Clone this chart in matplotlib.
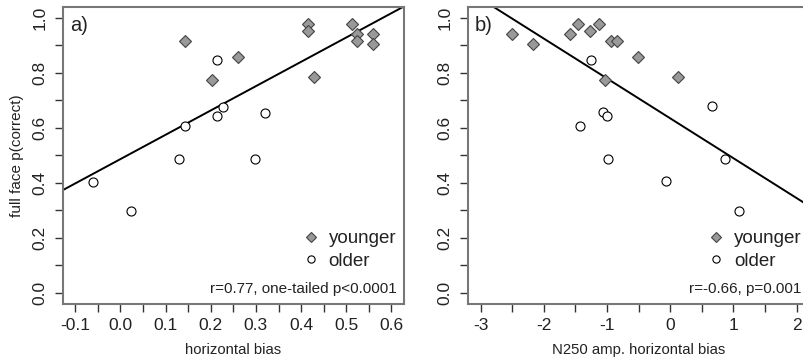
import matplotlib
matplotlib.use("Agg")
import matplotlib.pyplot as plt
import numpy as np

plt.rcParams['font.family'] = ['Liberation Sans', 'DejaVu Sans']

# panel a: behavioural horizontal bias vs. full face accuracy
young_hbias = [0.143, 0.202, 0.261, 0.416, 0.416, 0.428, 0.512, 0.524, 0.524, 0.560, 0.560]
young_acc = [0.917, 0.774, 0.857, 0.978, 0.952, 0.786, 0.977, 0.942, 0.915, 0.942, 0.905]
old_hbias = [-0.061, 0.023, 0.130, 0.143, 0.2135, 0.2135, 0.226, 0.298, 0.3195]
old_acc = [0.405, 0.298, 0.489, 0.607, 0.846, 0.643, 0.678, 0.489, 0.654]

# panel b: N250 amplitude horizontal bias vs. full face accuracy
young_n250 = [-2.506, -2.170, -1.581, -1.455, -1.265, -1.129, -0.945, -0.845, -1.039, -0.514, 0.123]
young_acc_b = [0.941, 0.904, 0.941, 0.977, 0.953, 0.977, 0.916, 0.917, 0.774, 0.857, 0.786]
old_n250 = [-1.260, -1.434, -1.060, -1.003, -0.981, -0.072, 0.659, 0.874, 1.090]
old_acc_b = [0.846, 0.608, 0.657, 0.642, 0.489, 0.408, 0.680, 0.489, 0.298]

# regression lines (intercept, slope)
fit_a = (0.487, 0.884)
fit_b = (0.635, -0.145)

stats_a = "r=0.77, one-tailed p<0.0001"
stats_b = "r=-0.66, p=0.001"

spine_col = '#777777'
text_col = '#222222'


def style_axes(ax, xlim, xmajor, xminor, xlabels):
    ax.set_xlim(*xlim)
    ax.set_ylim(-0.04, 1.04)
    ax.set_xticks(xmajor)
    ax.set_xticks(xminor, minor=True)
    ax.set_xticklabels(xlabels)
    ax.set_yticks([0.0, 0.2, 0.4, 0.6, 0.8, 1.0])
    ax.set_yticks([0.1, 0.3, 0.5, 0.7, 0.9], minor=True)
    ax.set_yticklabels(['0.0', '0.2', '0.4', '0.6', '0.8', '1.0'],
                       rotation=90, va='center')
    for s in ax.spines.values():
        s.set_color(spine_col)
        s.set_linewidth(1.5)
    ax.tick_params(which='both', direction='out', length=6, width=1,
                   color='#333333', labelsize=12.5, labelcolor=text_col)
    ax.tick_params(axis='x', which='both', pad=4)
    ax.tick_params(axis='y', which='both', pad=5)


fig = plt.figure(figsize=(8.04, 3.6), dpi=100)
ax_a = fig.add_axes([0.078, 0.1556, 0.4245, 0.825])
ax_b = fig.add_axes([0.5821, 0.1556, 0.4245, 0.825])

xa_major = [-0.1, 0.0, 0.1, 0.2, 0.3, 0.4, 0.5, 0.6]
xa_minor = [-0.05, 0.05, 0.15, 0.25, 0.35, 0.45, 0.55]
xb_major = [-3, -2, -1, 0, 1, 2]
xb_minor = [-2.5, -1.5, -0.5, 0.5, 1.5]

panels = [
    (ax_a, young_hbias, young_acc, old_hbias, old_acc, fit_a, 'a)', stats_a,
     (-0.128, 0.628), xa_major, xa_minor, ['%.1f' % v for v in xa_major],
     'horizontal bias'),
    (ax_b, young_n250, young_acc_b, old_n250, old_acc_b, fit_b, 'b)', stats_b,
     (-3.2, 2.2), xb_major, xb_minor, ['%d' % v for v in xb_major],
     'N250 amp. horizontal bias'),
]

for (ax, xy, yy, xo, yo, fit, label, stats, xlim, xmajor, xminor, xlabels,
     xlab) in panels:
    ax.plot(xy, yy, 'D', ms=5.8, mfc='#999999', mec='#444444', mew=0.8,
            linestyle='none', zorder=3)
    ax.plot(xo, yo, 'o', ms=6.5, mfc='white', mec='black', mew=0.8,
            linestyle='none', zorder=3)
    ax.axline((0, fit[0]), slope=fit[1], color='black', lw=1.4, zorder=2)
    style_axes(ax, xlim, xmajor, xminor, xlabels)
    ax.set_xlabel(xlab, fontsize=10.7, color=text_col, labelpad=7)
    ax.text(0.021, 0.937, label, transform=ax.transAxes, fontsize=14.5,
            color=text_col, va='center', ha='left')
    ax.text(0.978, 0.037, stats, transform=ax.transAxes, fontsize=11,
            color=text_col, va='baseline', ha='right')

    # legend with smaller markers than the data points
    h_young, = ax.plot([], [], 'D', ms=4.8, mfc='#999999', mec='#444444',
                       mew=0.8, linestyle='none')
    h_old, = ax.plot([], [], 'o', ms=5.2, mfc='white', mec='black', mew=0.8,
                     linestyle='none')
    ax.legend([h_young, h_old], ['younger', 'older'], loc='lower left',
              bbox_to_anchor=(0.705, 0.115), frameon=False, fontsize=13.5,
              handlelength=0.8, handletextpad=0.55, labelspacing=0.28,
              borderpad=0, borderaxespad=0, labelcolor=text_col)

ax_a.set_ylabel('full face p(correct)', fontsize=11, color=text_col, labelpad=6)

fig.savefig('out.png', dpi=100)
